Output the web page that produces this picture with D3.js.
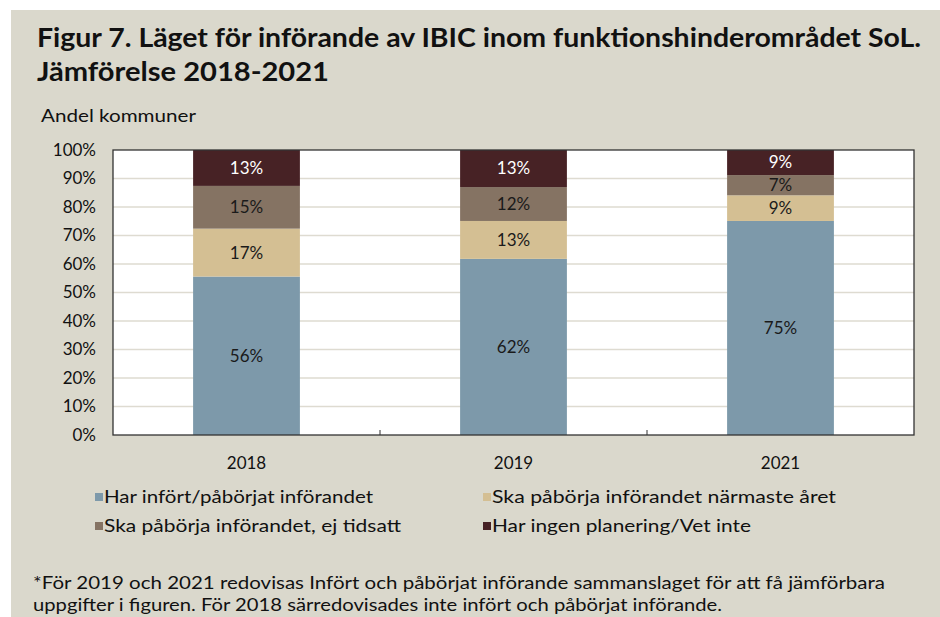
<!DOCTYPE html>
<html>
<head>
<meta charset="utf-8">
<script src="https://cdn.jsdelivr.net/npm/d3@7"></script>
<style>
  body { margin: 0; background: #fff; }
  svg { display: block; font-family: "Lato", "Liberation Sans", sans-serif; }
</style>
</head>
<body>
<svg id="chart" width="940" height="617"></svg>
<script>
const years = ["2018", "2019", "2021"];
const seriesNames = [
  "Har infört/påbörjat införandet",
  "Ska påbörja införandet närmaste året",
  "Ska påbörja införandet, ej tidsatt",
  "Har ingen planering/Vet inte",
];
const infort = [55.6, 61.8, 75.1];
const narmaste = [16.8, 13.3, 9.0];
const ejTidsatt = [15.0, 11.9, 7.1];
const ingen = [12.6, 13.0, 8.8];
const yTicks = [0, 10, 20, 30, 40, 50, 60, 70, 80, 90, 100];
const colors = ["#7d99aa", "#d4bf93", "#857363", "#472225"];

const keys = ["infort", "narmaste", "ejTidsatt", "ingen"];
const rows = years.map((y, i) => ({
  year: y, infort: infort[i], narmaste: narmaste[i], ejTidsatt: ejTidsatt[i], ingen: ingen[i],
}));

const svg = d3.select("#chart");
const W = 940, H = 617;
const plot = { left: 113, right: 914, top: 150, bottom: 435 };

// squeeze/stretch text to the width it has in the figure
function fit(sel, len) {
  sel.attr("textLength", len).attr("lengthAdjust", "spacingAndGlyphs");
}

// beige panel
svg.append("rect").attr("x", 11).attr("y", 10).attr("width", W).attr("height", H)
  .attr("fill", "#dad8cc");

// title
const titleLines = [
  { t: "Figur 7. Läget för införande av IBIC inom funktionshinderområdet SoL.", y: 47, len: 884 },
  { t: "Jämförelse 2018-2021", y: 81, len: 292 },
];
titleLines.forEach((l) => {
  svg.append("text").text(l.t)
    .attr("x", 37).attr("y", l.y)
    .attr("font-size", 26).attr("font-weight", "bold").attr("fill", "#111")
    .call(fit, l.len);
});

svg.append("text").text("Andel kommuner")
  .attr("x", 41).attr("y", 122).attr("font-size", 16.5).attr("fill", "#111")
  .call(fit, 155);

// scales
const x = d3.scaleBand().domain(years)
  .range([plot.left, plot.right]).paddingInner(0.6).paddingOuter(0.3);
const y = d3.scaleLinear().domain([0, 100]).range([plot.bottom, plot.top]);

svg.append("rect")
  .attr("x", plot.left).attr("y", plot.top)
  .attr("width", plot.right - plot.left).attr("height", plot.bottom - plot.top)
  .attr("fill", "#fff");

// grid
svg.append("g").selectAll("line").data(yTicks.slice(1, -1)).join("line")
  .attr("x1", plot.left).attr("x2", plot.right)
  .attr("y1", (d) => y(d)).attr("y2", (d) => y(d))
  .attr("stroke", "#dedbd1").attr("stroke-width", 1.5);

// y labels
const yAxis = svg.append("g")
  .attr("transform", `translate(${plot.left},0)`)
  .call(d3.axisLeft(y).tickValues(yTicks).tickFormat((d) => d + "%").tickSize(0).tickPadding(17));
yAxis.select(".domain").remove();
yAxis.selectAll("text").attr("font-size", 17).attr("fill", "#111")
  .attr("font-family", "Lato, 'Liberation Sans', sans-serif");

// bars
const stack = d3.stack().keys(keys)(rows);
const layers = svg.append("g").selectAll("g").data(stack).join("g")
  .attr("fill", (d, i) => colors[i]);
layers.selectAll("rect").data((d) => d).join("rect")
  .attr("x", (d) => x(d.data.year))
  .attr("y", (d) => y(d[1]))
  .attr("width", x.bandwidth())
  .attr("height", (d) => y(d[0]) - y(d[1]));

// labels
layers.each(function (layer, li) {
  d3.select(this).selectAll("text").data(layer).join("text")
    .text((d) => Math.round(d[1] - d[0]) + "%")
    .attr("x", (d) => x(d.data.year) + x.bandwidth() / 2)
    .attr("y", (d) => (y(d[0]) + y(d[1])) / 2)
    .attr("dy", "0.35em")
    .attr("text-anchor", "middle")
    .attr("font-size", 17)
    .attr("fill", li === 3 ? "#fff" : "#1a1a1a");
});

// frame
svg.append("rect")
  .attr("x", plot.left).attr("y", plot.top)
  .attr("width", plot.right - plot.left).attr("height", plot.bottom - plot.top)
  .attr("fill", "none").attr("stroke", "#333").attr("stroke-width", 1.3);

// x axis
const step = x.step();
const xAxis = svg.append("g")
  .attr("transform", `translate(0,${plot.bottom})`)
  .call(d3.axisBottom(x).tickSize(0).tickPadding(22));
xAxis.select(".domain").remove();
xAxis.selectAll("text").attr("font-size", 17).attr("fill", "#111")
  .attr("font-family", "Lato, 'Liberation Sans', sans-serif");
svg.append("g").selectAll("line").data(years.slice(1)).join("line")
  .attr("x1", (d) => x(d) - step * 0.3).attr("x2", (d) => x(d) - step * 0.3)
  .attr("y1", plot.bottom).attr("y2", plot.bottom - 5)
  .attr("stroke", "#333").attr("stroke-width", 1);

// legend
const legendPos = [[95, 497], [483, 497], [95, 526], [483, 526]];
const legendLen = [269, 344, 297, 259];
const legend = svg.append("g").selectAll("g").data(seriesNames).join("g")
  .attr("transform", (d, i) => `translate(${legendPos[i][0]},${legendPos[i][1]})`);
legend.append("rect").attr("x", 0).attr("y", -4).attr("width", 8).attr("height", 8)
  .attr("fill", (d, i) => colors[i]);
legend.append("text").text((d) => d)
  .attr("x", 9).attr("dy", "0.35em").attr("font-size", 17.5).attr("fill", "#111")
  .each(function (d, i) { d3.select(this).call(fit, legendLen[i]); });

// footnote
const notes = [
  "*För 2019 och 2021 redovisas Infört och påbörjat införande sammanslaget för att få jämförbara",
  "uppgifter i figuren. För 2018 särredovisades inte infört och påbörjat införande.",
];
const noteLen = [852, 689];
svg.append("g").selectAll("text").data(notes).join("text")
  .text((d) => d)
  .attr("x", 33).attr("y", (d, i) => 589 + i * 22)
  .attr("font-size", 17).attr("fill", "#111")
  .each(function (d, i) { d3.select(this).call(fit, noteLen[i]); });
</script>
</body>
</html>
